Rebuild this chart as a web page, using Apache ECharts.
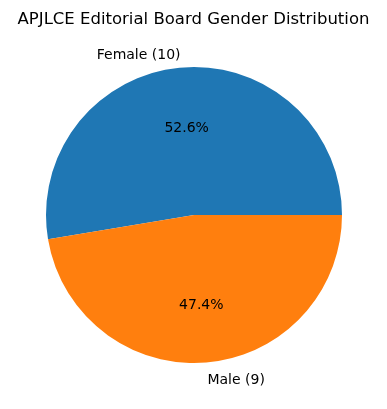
<!DOCTYPE html>
<html><head><meta charset="utf-8">
<script src="https://cdn.jsdelivr.net/npm/echarts@6/dist/echarts.min.js"></script>
<style>html,body{margin:0;padding:0;background:#fff}#c{width:387px;height:409px}</style>
</head><body><div id="c"></div>
<script>
const categories = ['Female', 'Male'];
const counts = [10, 9];
const colors = ['#1f77b4', '#ff7f0e'];
const titleText = 'APJLCE Editorial Board Gender Distribution';

const R = 148;
const cx = 194, cy = 215;
const font = 'DejaVu Sans';

const sliceData = categories.map((c, i) => ({ name: c + ' (' + counts[i] + ')', value: counts[i], itemStyle: { color: colors[i] } }));
const pctData = categories.map((c, i) => ({ name: c, value: counts[i] }));

const chart = echarts.init(document.getElementById('c'), null, { renderer: 'canvas' });
chart.setOption({
  animation: false,
  title: { text: titleText, left: 'center', top: 6, textStyle: { fontFamily: font, fontSize: 16.5, fontWeight: 'normal', color: '#000' } },
  series: [
    {
      type: 'pie', center: [cx, cy], radius: [0, R], startAngle: 0, clockwise: false,
      avoidLabelOverlap: false, silent: true,
      data: sliceData,
      itemStyle: { borderWidth: 0 },
      label: {
        show: true, position: 'outside', formatter: '{s| }\n{t|{b}}', distanceToLabelLine: 0,
        rich: {
          s: { fontSize: 1, lineHeight: 6 },
          t: { fontFamily: font, fontSize: 14, lineHeight: 17, color: '#000' }
        }
      },
      labelLine: { show: false, length: R * 0.1, length2: 0 }
    },
    {
      type: 'pie', center: [cx, cy + 2], radius: [0, R * 1.2 - 6], startAngle: 0, clockwise: false,
      avoidLabelOverlap: false, silent: true, percentPrecision: 1,
      data: pctData,
      itemStyle: { color: 'rgba(0,0,0,0)', borderWidth: 0 },
      label: { show: true, position: 'inner', formatter: p => p.percent.toFixed(1) + '%', fontFamily: font, fontSize: 14, color: '#000' },
      labelLine: { show: false }
    }
  ]
});
</script></body></html>
